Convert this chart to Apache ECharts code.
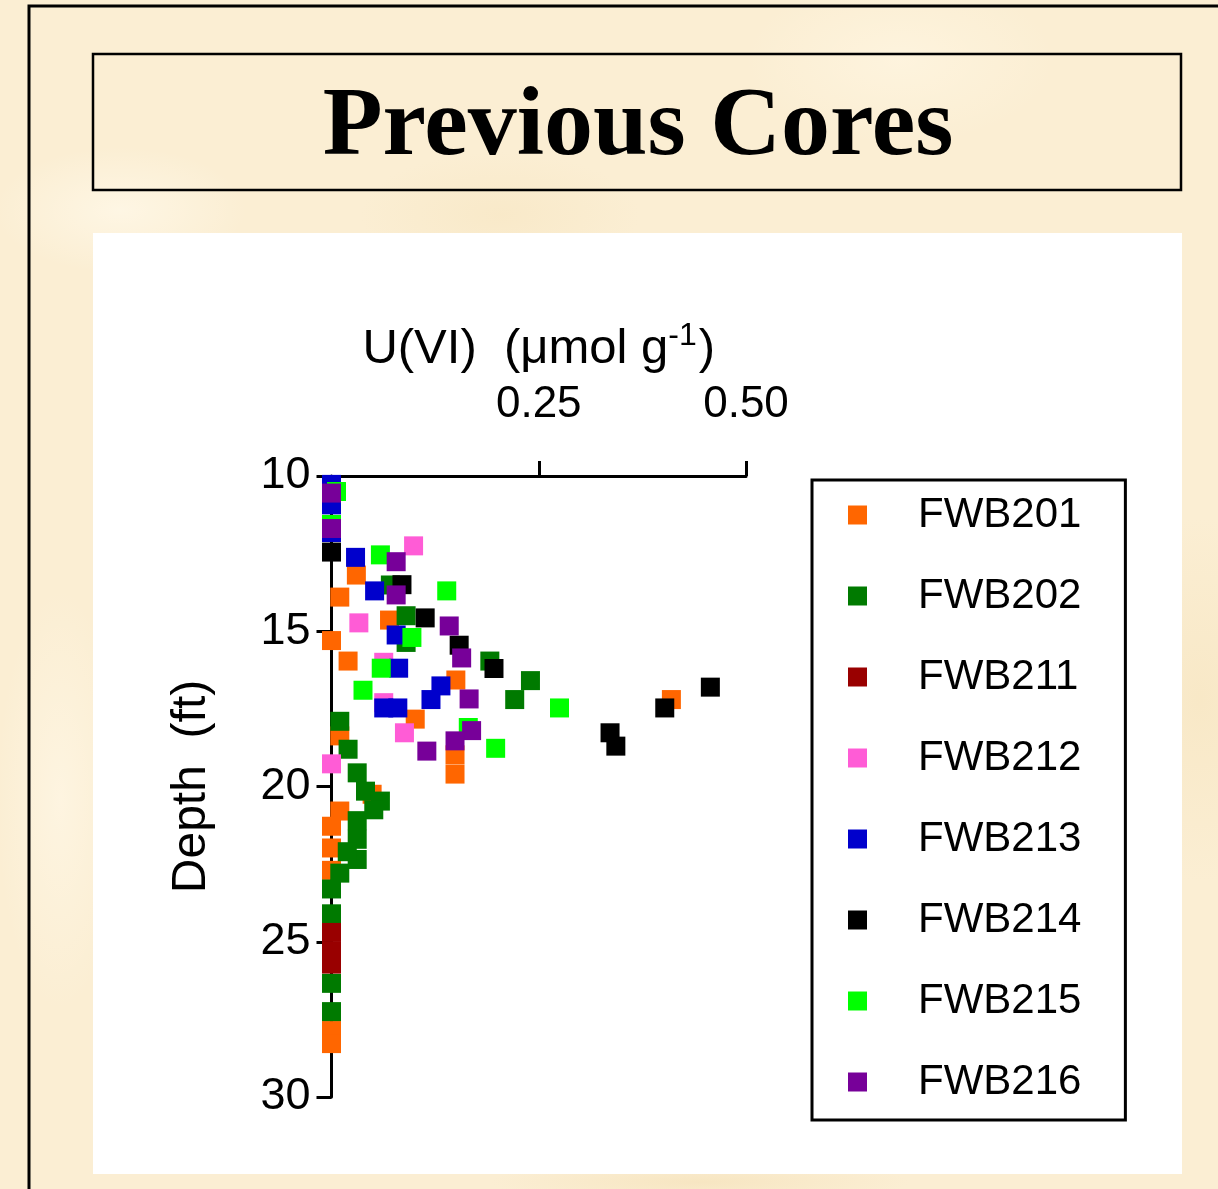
<!DOCTYPE html>
<html>
<head>
<meta charset="utf-8">
<script src="https://cdn.jsdelivr.net/npm/echarts@6/dist/echarts.min.js"></script>
<style>
  html, body { margin: 0; padding: 0; width: 1218px; height: 1189px; overflow: hidden; }
  body {
    background-color: #fbeed3;
    background-image:
      radial-gradient(ellipse 180px 90px at 120px 210px, rgba(255,248,232,0.8), rgba(255,248,232,0) 70%),
      radial-gradient(ellipse 220px 120px at 900px 60px, rgba(255,246,226,0.7), rgba(255,246,226,0) 70%),
      radial-gradient(ellipse 160px 260px at 1200px 700px, rgba(246,228,190,0.6), rgba(246,228,190,0) 70%),
      radial-gradient(ellipse 200px 90px at 500px 215px, rgba(247,230,194,0.6), rgba(247,230,194,0) 70%),
      radial-gradient(ellipse 90px 300px at 60px 800px, rgba(255,247,230,0.7), rgba(255,247,230,0) 70%),
      radial-gradient(ellipse 300px 30px at 700px 1182px, rgba(245,226,186,0.7), rgba(245,226,186,0) 70%);
  }
  #chart { width: 1218px; height: 1189px; }
</style>
</head>
<body>
<div id="chart"></div>
<script>
// Core names and their marker colours
const coreNames = ['FWB201', 'FWB202', 'FWB211', 'FWB212', 'FWB213', 'FWB214', 'FWB215', 'FWB216'];
const coreColors = ['#ff6600', '#007a00', '#990000', '#ff5cd6', '#0000cc', '#000000', '#00ff00', '#770099'];

// [U(VI) in umol/g, depth in ft]
const fwb201 = [[0.030, 13.19], [0.010, 13.9], [0.070, 14.64], [0, 15.3], [0.020, 15.96], [0.150, 16.57],
  [0.410, 17.2], [0.101, 17.83], [0.010, 18.37], [0.149, 18.98], [0.149, 19.6], [0.049, 20.25],
  [0.010, 20.79], [0, 21.28], [0, 21.98], [0, 22.7], [0, 27.86], [0, 28.28]];
const fwb202 = [[0.071, 13.51], [0.090, 14.5], [0.090, 15.36], [0.191, 15.96], [0.240, 16.59], [0.221, 17.2],
  [0.010, 17.9], [0.020, 18.8], [0.031, 19.56], [0.041, 20.15], [0.059, 20.47], [0.051, 20.75],
  [0.031, 21.1], [0.031, 21.7], [0.031, 22.35], [0.019, 22.1], [0.010, 22.79], [0, 23.3], [0, 24.1],
  [0, 26.34], [0, 27.25]];
const fwb211 = [[0, 24.7], [0, 25.3], [0, 25.72]];
const fwb212 = [[0.099, 12.25], [0.033, 14.73], [0.063, 16.0], [0.063, 17.3], [0.088, 18.27], [0, 19.27]];
const fwb213 = [[0, 10.27], [0, 10.93], [0, 11.82], [0.029, 12.62], [0.052, 13.7], [0.078, 15.12],
  [0.081, 16.19], [0.132, 16.76], [0.120, 17.2], [0.063, 17.47], [0.080, 17.47]];
const fwb214 = [[0, 12.45], [0.085, 13.5], [0.113, 14.57], [0.154, 15.45], [0.196, 16.2], [0.457, 16.8],
  [0.402, 17.47], [0.336, 18.27], [0.343, 18.7]];
const fwb215 = [[0.006, 10.5], [0, 11.56], [0.059, 12.54], [0.139, 13.7], [0.097, 15.2], [0.060, 16.19],
  [0.038, 16.9], [0.275, 17.47], [0.165, 18.1], [0.198, 18.77]];
const fwb216 = [[0, 10.55], [0, 11.69], [0.078, 12.76], [0.078, 13.83], [0.142, 14.83], [0.157, 15.86],
  [0.166, 17.18], [0.169, 18.2], [0.149, 18.53], [0.115, 18.86]];

const coreData = [fwb201, fwb202, fwb211, fwb212, fwb213, fwb214, fwb215, fwb216];

// Axis ticks
const uTicks = [0.25, 0.5];
const depthTicks = [10, 15, 20, 25, 30];

const sans = '"Liberation Sans", Arial, sans-serif';
const chart = echarts.init(document.getElementById('chart'), null, { renderer: 'canvas' });

chart.setOption({
  backgroundColor: 'transparent',
  animation: false,
  graphic: [
    // outer frame
    { type: 'polyline', z: -20, shape: { points: [[29, 1189], [29, 6], [1218, 6]] },
      style: { stroke: '#000', lineWidth: 3, fill: null } },
    // heading box
    { type: 'rect', z: -20, shape: { x: 93, y: 54, width: 1088, height: 136 },
      style: { fill: 'transparent', stroke: '#000', lineWidth: 2.5 } },
    { type: 'text', z: -19, x: 638, y: 129,
      style: { text: 'Previous Cores', font: 'bold 98px "Liberation Serif", "Times New Roman", serif',
               fill: '#000', align: 'center', verticalAlign: 'middle' } },
    // white plot panel
    { type: 'rect', z: -20, shape: { x: 93, y: 233, width: 1089, height: 941 },
      style: { fill: '#ffffff' } }
  ],
  grid: { left: 331.5, top: 476, width: 414.5, height: 621, containLabel: false },
  legend: {
    orient: 'vertical',
    left: 812,
    top: 480,
    data: coreNames,
    icon: 'rect',
    itemWidth: 19,
    itemHeight: 19,
    itemGap: 39,
    padding: [14, 44, 17, 36],
    borderColor: '#000',
    borderWidth: 3,
    selectedMode: false,
    textStyle: { fontFamily: sans, fontSize: 42, lineHeight: 42, color: '#000', padding: [0, 0, 0, 46] }
  },
  xAxis: {
    type: 'value',
    position: 'top',
    min: 0,
    max: 0.5,
    interval: 0.25,
    name: 'U(VI)  (μmol g{sup|-1})',
    nameLocation: 'middle',
    nameGap: 98,
    nameTextStyle: {
      fontFamily: sans, fontSize: 49, color: '#000',
      rich: { sup: { fontFamily: sans, fontSize: 32, color: '#000', padding: [0, 2, 26, 0] } }
    },
    splitLine: { show: false },
    axisLine: { show: true, lineStyle: { color: '#000', width: 3 } },
    axisTick: { show: true, length: 15, customValues: uTicks, lineStyle: { color: '#000', width: 3 } },
    axisLabel: {
      customValues: uTicks,
      margin: 49,
      fontFamily: sans, fontSize: 44, color: '#000',
      formatter: v => (v === 0 ? '' : v.toFixed(2))
    }
  },
  yAxis: {
    type: 'value',
    inverse: true,
    min: 10,
    max: 30,
    interval: 5,
    name: 'Depth  (ft)',
    nameLocation: 'middle',
    nameGap: 116,
    nameTextStyle: { fontFamily: sans, fontSize: 48, color: '#000' },
    splitLine: { show: false },
    axisLine: { show: true, lineStyle: { color: '#000', width: 3 } },
    axisTick: { show: true, length: 15, lineStyle: { color: '#000', width: 3 } },
    axisLabel: { margin: 21, fontFamily: sans, fontSize: 45, color: '#000',
      formatter: v => (depthTicks.includes(v) ? String(v) : '') }
  },
  series: coreNames.map((name, i) => ({
    name: name,
    type: 'scatter',
    symbol: 'rect',
    symbolSize: 19,
    clip: false,
    itemStyle: { color: coreColors[i], opacity: 1 },
    emphasis: { disabled: true },
    data: coreData[i]
  }))
});
</script>
</body>
</html>
